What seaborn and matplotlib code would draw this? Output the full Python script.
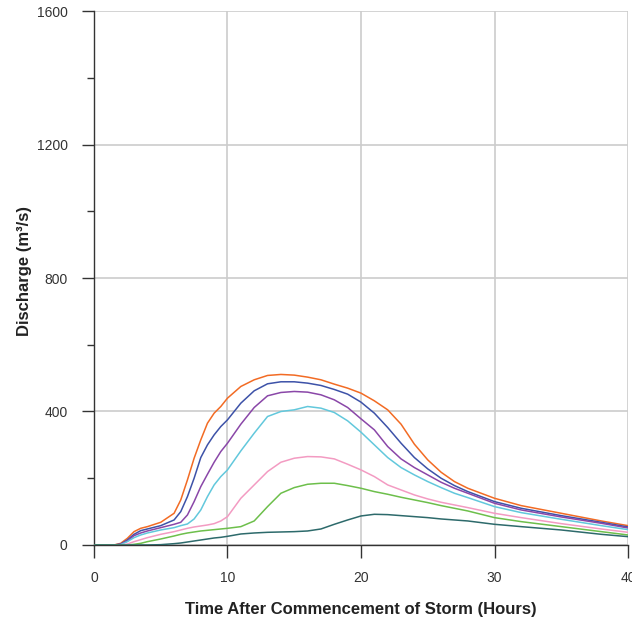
import pandas as pd
import seaborn as sns
import matplotlib.pyplot as plt

# time grid (hours) shared by all hydrographs
hours = [0, 1.5, 2, 2.5, 3, 3.5, 4, 5, 6, 6.5, 7, 7.5, 8, 8.5, 9, 9.5, 10,
         11, 12, 13, 14, 15, 16, 17, 18, 19, 20, 21, 22, 23, 24, 25, 26, 27,
         28, 30, 32, 35, 38, 40]

# discharge (m3/s), one list per curve
q_orange = [0, 0, 5, 20, 40, 50, 55, 68, 95, 135, 195, 260, 315, 365, 395, 415, 440,
            475, 495, 508, 511, 509, 503, 495, 482, 470, 455, 432, 405, 362, 302, 255,
            218, 190, 170, 140, 118, 95, 72, 58]
q_blue = [0, 0, 3, 15, 32, 43, 48, 58, 75, 100, 145, 200, 262, 300, 330, 355, 375,
          425, 462, 483, 489, 489, 485, 478, 466, 452, 428, 395, 352, 305, 262, 228,
          200, 178, 160, 130, 110, 88, 68, 54]
q_purple = [0, 0, 2, 12, 28, 36, 42, 52, 62, 68, 90, 130, 175, 212, 248, 280, 305,
            362, 412, 447, 457, 460, 458, 450, 435, 412, 378, 345, 295, 258, 232, 210,
            188, 170, 155, 125, 105, 84, 65, 51]
q_cyan = [0, 0, 1, 10, 22, 30, 36, 45, 52, 58, 63, 78, 105, 145, 180, 205, 225,
          282, 335, 385, 400, 405, 415, 410, 397, 372, 338, 300, 262, 232, 210, 190,
          172, 155, 142, 115, 97, 77, 58, 46]
q_pink = [0, 0, 0, 3, 10, 16, 22, 32, 40, 45, 50, 54, 57, 60, 64, 72, 85,
          140, 180, 220, 248, 260, 265, 264, 258, 242, 225, 205, 180, 165, 150, 138,
          128, 120, 112, 95, 82, 64, 48, 38]
q_green = [0, 0, 0, 0, 2, 5, 10, 18, 27, 32, 36, 39, 42, 44, 46, 48, 50,
           55, 72, 115, 155, 172, 182, 185, 185, 178, 170, 160, 152, 143, 135, 127,
           118, 110, 102, 82, 70, 55, 40, 30]
q_teal = [0, 0, 0, 0, 0, 0, 0, 1, 4, 6, 9, 12, 15, 18, 21, 23, 26,
          33, 36, 38, 39, 40, 42, 48, 62, 75, 87, 92, 91, 88, 85, 82,
          78, 75, 72, 62, 55, 45, 32, 25]

series = {
    "orange": q_orange,
    "blue": q_blue,
    "purple": q_purple,
    "cyan": q_cyan,
    "pink": q_pink,
    "green": q_green,
    "teal": q_teal,
}
colors = {
    "orange": "#f26b24",
    "blue": "#3d52a8",
    "purple": "#8a47a8",
    "cyan": "#62c8dc",
    "pink": "#f39bc2",
    "green": "#6dbf4b",
    "teal": "#2d6a6b",
}


def main():
    frames = []
    for name, vals in series.items():
        frames.append(pd.DataFrame({"hours": hours, "discharge": vals, "curve": name}))
    df = pd.concat(frames, ignore_index=True)

    sns.set_style("white")
    plt.rcParams["font.family"] = ["Liberation Sans", "DejaVu Sans"]

    fig = plt.figure(figsize=(6.32, 6.22), dpi=100)
    ax = fig.add_axes([0.1487, 0.1238, 0.845, 0.8585])

    sns.lineplot(data=df, x="hours", y="discharge", hue="curve", palette=colors,
                 linewidth=1.1, legend=False, ax=ax, zorder=3)

    ax.set_xlim(0, 40)
    ax.set_ylim(0, 1600)
    ax.set_xticks([0, 10, 20, 30, 40])
    ax.set_yticks([0, 400, 800, 1200, 1600])
    ax.set_yticks([200, 600, 1000, 1400], minor=True)
    ax.grid(True, which="major", color="#cccccc", linewidth=1.2)
    ax.set_axisbelow(True)

    sns.despine(ax=ax)
    for s in ["left", "bottom"]:
        ax.spines[s].set_color("#333333")
        ax.spines[s].set_linewidth(1.0)

    ax.tick_params(axis="both", which="major", direction="out", length=9, width=1,
                   color="#333333", pad=10, labelsize=10, labelcolor="#333333",
                   left=True, bottom=True)
    ax.tick_params(axis="y", which="minor", direction="out", length=5, width=1,
                   color="#333333", left=True)

    ax.set_xlabel("Time After Commencement of Storm (Hours)", fontsize=12,
                  fontweight="bold", color="#222222", labelpad=12)
    ax.set_ylabel("Discharge (m\u00b3/s)", fontsize=12, fontweight="bold",
                  color="#222222")
    ax.yaxis.set_label_coords(-0.116, 0.513)

    fig.savefig("out.png", dpi=100)


if __name__ == "__main__":
    main()
